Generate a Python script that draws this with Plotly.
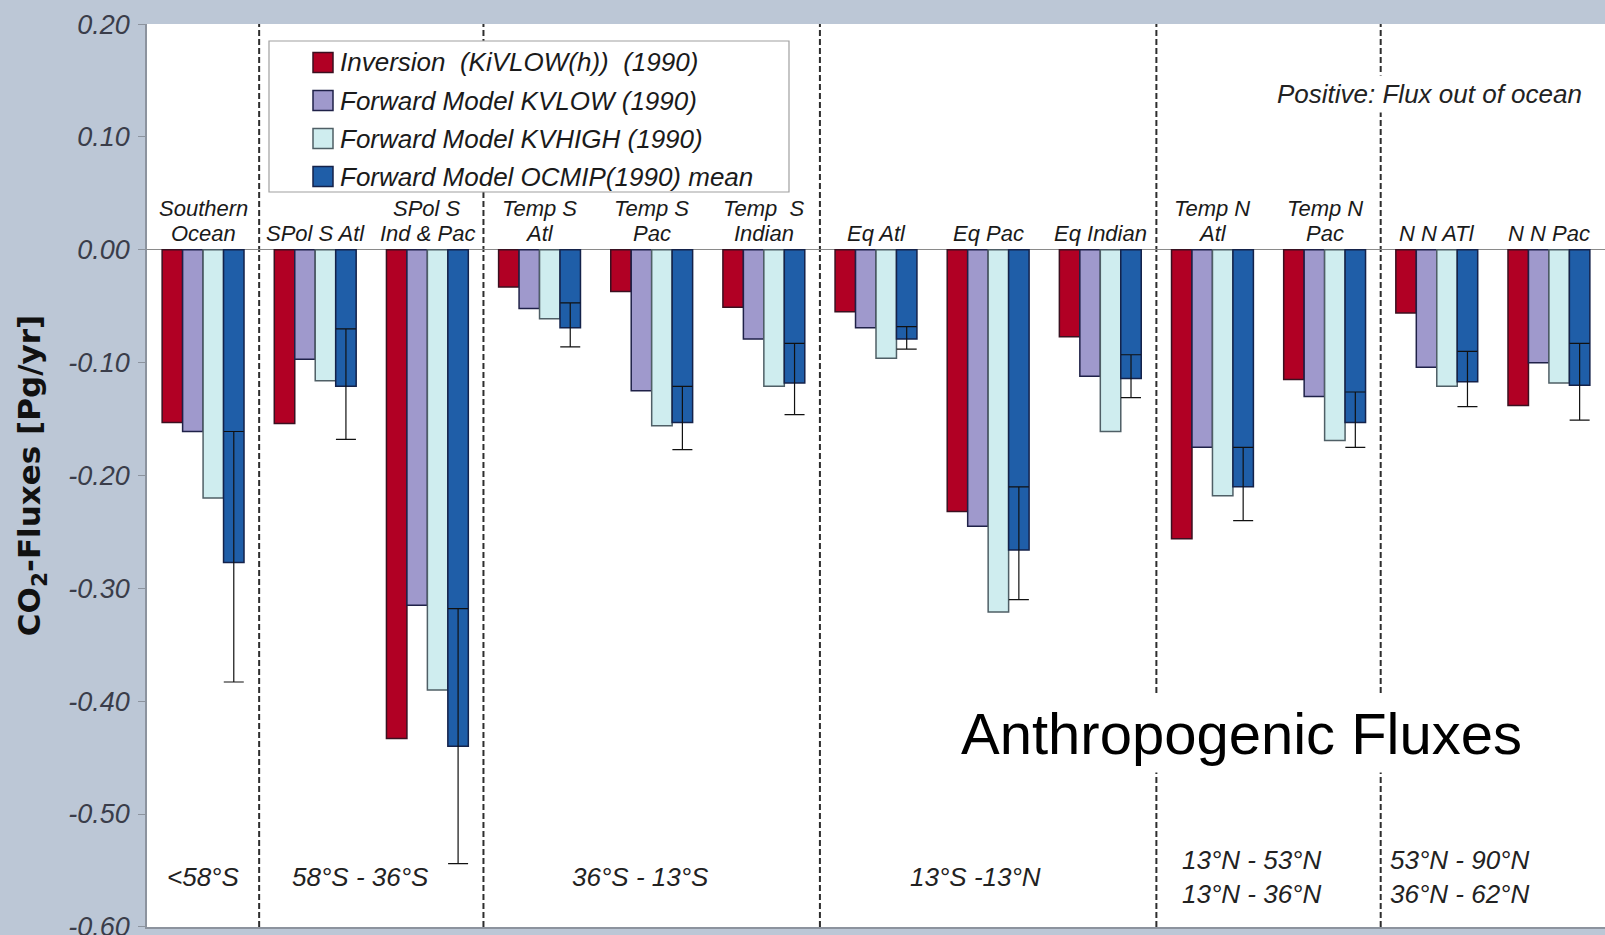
import plotly.graph_objects as go

# ---------------- data ----------------
regions = ["Southern<br>Ocean", "SPol S Atl", "SPol S<br>Ind & Pac", "Temp S<br>Atl",
           "Temp S<br>Pac", "Temp  S<br>Indian", "Eq Atl", "Eq Pac", "Eq Indian",
           "Temp N<br>Atl", "Temp N<br>Pac", "N N ATl", "N N Pac"]

inversion = [-0.153, -0.154, -0.433, -0.033, -0.037, -0.051, -0.055, -0.232, -0.077,
             -0.256, -0.115, -0.056, -0.138]
kvlow = [-0.161, -0.097, -0.315, -0.052, -0.125, -0.079, -0.069, -0.245, -0.112,
         -0.175, -0.130, -0.104, -0.100]
kvhigh = [-0.220, -0.116, -0.390, -0.061, -0.156, -0.121, -0.096, -0.321, -0.161,
          -0.218, -0.169, -0.121, -0.118]
ocmip = [-0.277, -0.121, -0.440, -0.069, -0.153, -0.118, -0.079, -0.266, -0.114,
         -0.210, -0.153, -0.117, -0.120]
ocmip_err_top = [-0.161, -0.070, -0.318, -0.047, -0.121, -0.083, -0.068, -0.210, -0.093,
                 -0.175, -0.126, -0.090, -0.083]
ocmip_err_bottom = [-0.383, -0.168, -0.544, -0.086, -0.177, -0.146, -0.088, -0.310, -0.131,
                    -0.240, -0.175, -0.139, -0.151]

series_names = ["Inversion  (KiVLOW(h))  (1990)", "Forward Model KVLOW (1990)",
                "Forward Model KVHIGH (1990)", "Forward Model OCMIP(1990) mean"]
series_colors = ["#B10024", "#9F99CC", "#CFEDEF", "#1F5EA8"]
series_lines = ["#3a1020", "#1f2148", "#4f5f66", "#14224a"]

separators = [0.5, 2.5, 5.5, 8.5, 10.5]
lat_labels = ["&lt;58°S", "58°S - 36°S", "36°S - 13°S", "13°S -13°N",
              "13°N - 53°N<br>13°N - 36°N", "53°N - 90°N<br>36°N - 62°N"]
lat_x = [0.0, 1.4, 3.9, 6.89, 9.35, 11.21]

y_ticks = [0.2, 0.1, 0.0, -0.1, -0.2, -0.3, -0.4, -0.5, -0.6]

# ---------------- layout geometry (pixels) ----------------
W, H = 1605, 935
ML, MR, MT, MB = 147, 0, 24, 8
PW, PH = W - ML - MR, H - MT - MB


def px(xp):
    return (xp - ML) / PW


def py(yp):
    return 1 - (yp - MT) / PH


FONT = "Liberation Sans"
x = list(range(len(regions)))
fig = go.Figure()
all_vals = [inversion, kvlow, kvhigh, ocmip]
for i, (name, vals) in enumerate(zip(series_names, all_vals)):
    kw = {}
    if i == 3:
        kw["error_y"] = dict(
            type="data", symmetric=False,
            array=[t - v for t, v in zip(ocmip_err_top, ocmip)],
            arrayminus=[v - b for v, b in zip(ocmip, ocmip_err_bottom)],
            color="#111111", thickness=1.2, width=10)
    fig.add_trace(go.Bar(
        x=x, y=vals, name=name, showlegend=False,
        marker=dict(color=series_colors[i], line=dict(color=series_lines[i], width=1.5)),
        **kw))

shapes = []
for s in separators:
    shapes.append(dict(type="line", xref="x", yref="paper", x0=s, x1=s, y0=0, y1=1,
                       line=dict(color="#2e2e2e", width=2, dash="6px,3px"), layer="below"))

# legend box (drawn manually for exact placement)
shapes.append(dict(type="rect", xref="paper", yref="paper",
                   x0=px(269), x1=px(789), y0=py(192), y1=py(41),
                   fillcolor="white", line=dict(color="#a0a0a0", width=1.2), layer="above"))
annotations = []
row_y = [62.5, 100.5, 138.5, 176.5]
for i, name in enumerate(series_names):
    yc = row_y[i]
    shapes.append(dict(type="rect", xref="paper", yref="paper",
                       x0=px(313), x1=px(333), y0=py(yc + 10), y1=py(yc - 10),
                       fillcolor=series_colors[i], line=dict(color=series_lines[i], width=1.5),
                       layer="above"))
    annotations.append(dict(x=px(338), y=py(yc), xref="paper", yref="paper", text=name,
                            showarrow=False, xanchor="left", yanchor="middle",
                            font=dict(family=FONT, size=26, color="#1a1a1a", style="italic")))

for i, lab in enumerate(regions):
    lines = lab.split("<br>")
    ys = [0.0142] if len(lines) == 1 else [0.0369, 0.0142]
    for ln, yy in zip(lines, ys):
        annotations.append(dict(x=i, y=yy, xref="x", yref="y", text=ln, showarrow=False,
                                xanchor="center", yanchor="middle",
                                font=dict(family=FONT, size=22, color="#1a1a1a", style="italic")))

for lab, lx in zip(lat_labels, lat_x):
    annotations.append(dict(x=lx, y=-0.556, xref="x", yref="y", text=lab, showarrow=False,
                            xanchor="center", yanchor="middle", align="left",
                            font=dict(family=FONT, size=26, color="#222222", style="italic")))

annotations.append(dict(x=9.26, y=-0.429, xref="x", yref="y", text="Anthropogenic Fluxes",
                        showarrow=False, xanchor="center", yanchor="middle",
                        bgcolor="white", borderpad=6,
                        font=dict(family=FONT, size=58, color="#000000")))
annotations.append(dict(x=12.33, y=0.1385, xref="x", yref="y", text="Positive: Flux out of ocean",
                        showarrow=False, xanchor="right", yanchor="middle",
                        bgcolor="white", borderpad=3,
                        font=dict(family=FONT, size=26, color="#222222", style="italic")))

fig.update_layout(
    width=W, height=H,
    margin=dict(l=ML, r=MR, t=MT, b=MB, autoexpand=False),
    paper_bgcolor="#BCC7D6", plot_bgcolor="white",
    barmode="group", bargap=0.27, bargroupgap=0.0,
    showlegend=False,
    shapes=shapes, annotations=annotations,
    xaxis=dict(range=[-0.5, 12.5], showticklabels=False, showgrid=False, zeroline=False,
               showline=True, linecolor="#8c939e", linewidth=1.5, ticks="", fixedrange=True,
               automargin=False),
    yaxis=dict(range=[-0.6001, 0.2001], tickvals=y_ticks,
               ticktext=[f"{v:.2f}" for v in y_ticks],
               showgrid=False, zeroline=True, zerolinecolor="#8a8a8a", zerolinewidth=1,
               showline=True, linecolor="#8c939e", linewidth=1.5,
               ticks="outside", ticklen=7, tickcolor="#8c939e", ticklabelstandoff=3,
               ticklabeloverflow="allow", automargin=False,
               tickfont=dict(family=FONT, size=27, color="#3a3d4a", style="italic"),
               title=dict(text="CO<sub>2</sub>-Fluxes [Pg/yr]", standoff=18,
                          font=dict(family="DejaVu Sans", size=31, color="#111111", weight="bold"))),
)

fig.write_html("out.html")
